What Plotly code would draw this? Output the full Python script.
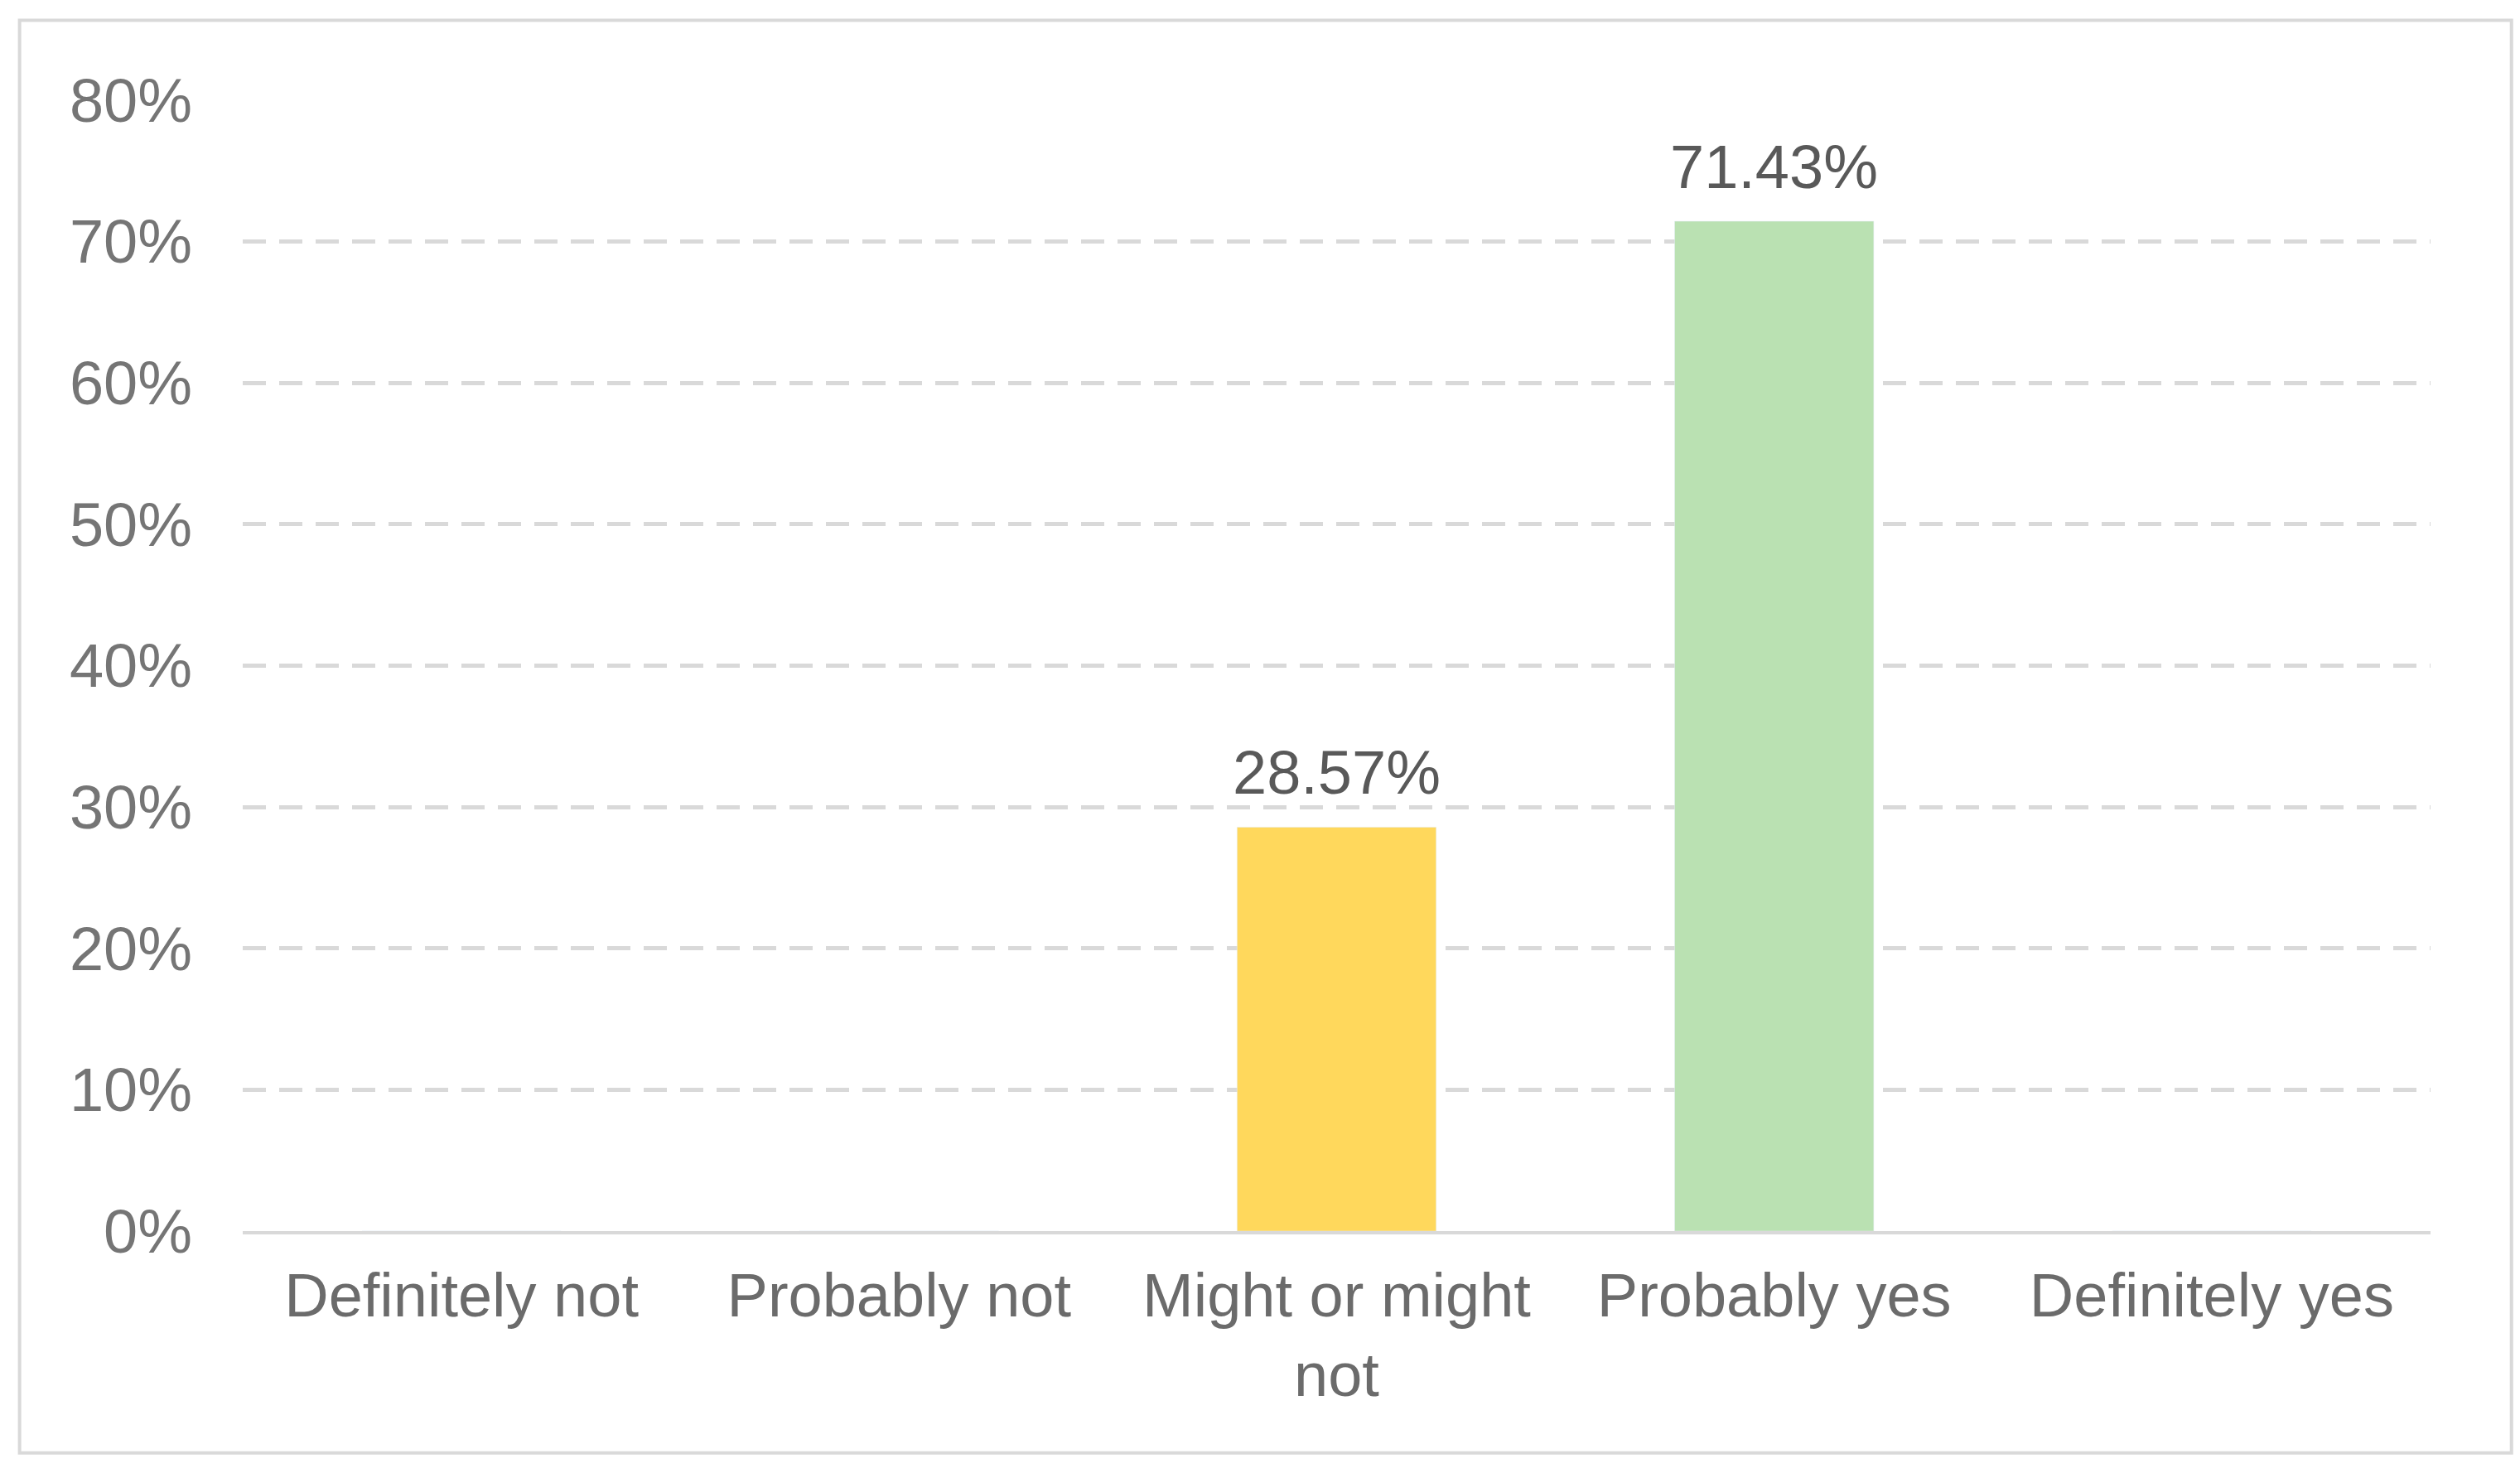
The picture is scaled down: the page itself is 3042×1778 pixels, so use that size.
import plotly.graph_objects as go

categories = ["Definitely not", "Probably not", "Might or might<br>not", "Probably yes", "Definitely yes"]
values = [0, 0, 28.57, 71.43, 0]
labels = ["", "", "28.57%", "71.43%", ""]
colors = ["#5B9BD5", "#ED7D31", "#FFD85C", "#BAE1B2", "#4472C4"]
yticks = [0, 10, 20, 30, 40, 50, 60, 70, 80]

fig = go.Figure(go.Bar(
    x=categories, y=values, marker_color=colors, width=0.455,
))
for c, v, t in zip(categories, values, labels):
    if t:
        fig.add_annotation(x=c, y=v, text=t, showarrow=False, yanchor="bottom", yshift=22,
                           font=dict(size=74, color="#595959", family="Liberation Sans"))
fig.update_layout(
    width=3042, height=1778, plot_bgcolor="white", paper_bgcolor="white",
    margin=dict(l=285, r=116, t=112, b=300), showlegend=False,
    font=dict(family="Liberation Sans", color="#757575", size=74),
    yaxis=dict(range=[0, 80.05], tickvals=yticks, ticktext=[f"{v}%" for v in yticks],
               showgrid=True, gridcolor="#D9D9D9", griddash="28px,16px", gridwidth=5,
               zeroline=False, ticks="", ticklabelstandoff=60),
    xaxis=dict(showline=True, linecolor="#D9D9D9", linewidth=4, ticks="",
               tickfont=dict(color="#6b6b6b"), ticklabelstandoff=10),
    shapes=[dict(type="rect", xref="paper", yref="paper", x0=-0.102, x1=1.037,
                 y0=-0.196, y1=1.070, line=dict(color="#D9D9D9", width=4))],
)
fig.write_html("out.html")
